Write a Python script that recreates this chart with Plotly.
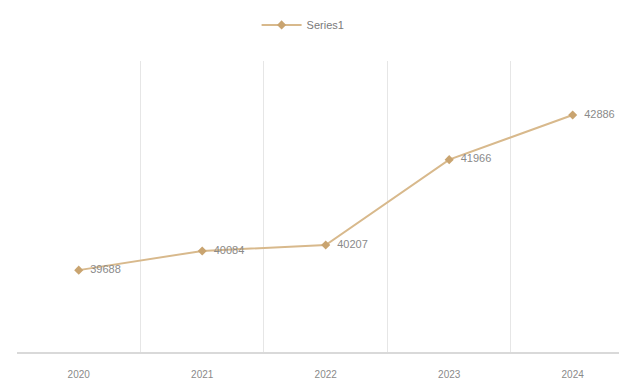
import plotly.graph_objects as go

years = ["2020", "2021", "2022", "2023", "2024"]
values = [39688, 40084, 40207, 41966, 42886]
labels = ["39688", "40084", "40207", "41966", "42886"]

fig = go.Figure()
fig.add_trace(go.Scatter(
    x=years, y=values, name="Series1",
    mode="lines+markers+text",
    text=labels, texttemplate="  %{text}", textposition="middle right",
    textfont=dict(family="Liberation Sans, Arial", size=11, color="#8a8a8a"),
    line=dict(color="#d8b98c", width=2),
    marker=dict(symbol="diamond", size=7, color="#c9a470"),
    cliponaxis=False,
))

fig.update_layout(
    width=619, height=375,
    margin=dict(l=9, r=0, t=53, b=31),
    paper_bgcolor="white", plot_bgcolor="white",
    showlegend=True,
    legend=dict(orientation="h", x=0.469, xanchor="center", y=1.124, yanchor="middle",
                font=dict(family="Liberation Sans, Arial", size=11, color="#7a7a7a"),
                itemwidth=40),
    xaxis=dict(type="category", range=[-0.5, 4.44], tickson="boundaries",
               showgrid=True, gridcolor="#e6e6e6", gridwidth=1,
               showline=True, linecolor="#d9d9d9", linewidth=2,
               ticks="", ticklabelstandoff=12,
               tickfont=dict(family="Liberation Sans, Arial", size=10, color="#8a8a8a"),
               zeroline=False),
    yaxis=dict(range=[38000, 44000], showgrid=False, showticklabels=False,
               zeroline=False, showline=False),
)

fig.write_html("out.html")
